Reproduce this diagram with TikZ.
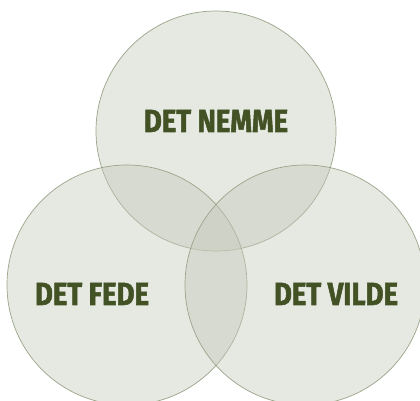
\documentclass[tikz,border=0pt]{standalone}
\usepackage{fontspec}
\newfontfamily\labelfont[FakeStretch=0.86,FakeBold=1.6]{Fira Sans}
\definecolor{setfill}{RGB}{196,201,186}
\definecolor{setline}{RGB}{155,165,138}
\definecolor{labelgreen}{RGB}{67,82,37}
\begin{document}
\begin{tikzpicture}[x=1pt,y=1pt,
  setcircle/.style={circle, inner sep=0pt, minimum size=240pt, fill=setfill, fill opacity=0.42, draw=setline, draw opacity=1, line width=0.7pt},
  setlabel/.style={font=\labelfont\bfseries\fontsize{32}{32}\selectfont, text=labelgreen, inner sep=0pt, anchor=base}]
\useasboundingbox (0,0) rectangle (420,401);
\clip (0,0) rectangle (420,401);
\fill[white] (0,0) rectangle (420,401);
\node[setcircle] (top) at (216,270) {};
\node[setcircle] (left) at (127,116) {};
\node[setcircle] (right) at (305,116) {};
\node[setlabel] (nemme) at (216,269) {DET NEMME};
\node[setlabel] (fede) at (92,96) {DET FEDE};
\node[setlabel] (vilde) at (336,96) {DET VILDE};
\end{tikzpicture}
\end{document}
